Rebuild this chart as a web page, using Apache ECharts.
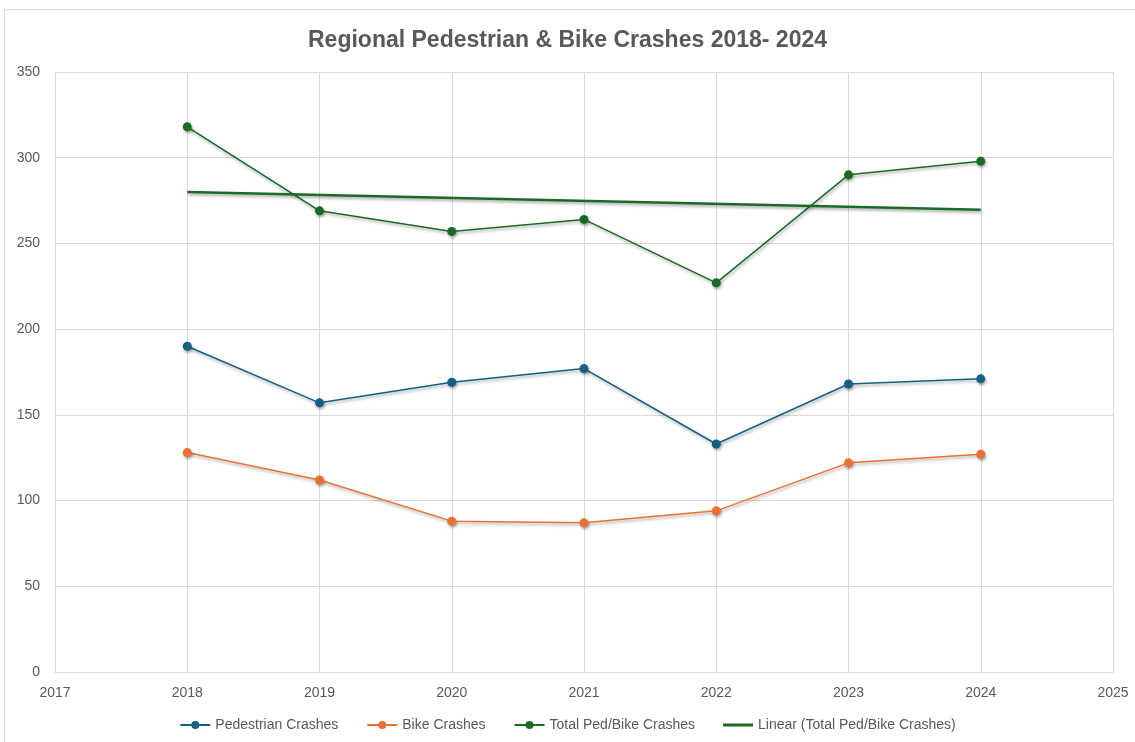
<!DOCTYPE html>
<html>
<head>
<meta charset="utf-8">
<script src="https://cdn.jsdelivr.net/npm/echarts@6/dist/echarts.min.js"></script>
<style>
  html, body { margin: 0; padding: 0; background: #fff; }
  #chart { width: 1135px; height: 742px; }
</style>
</head>
<body>
<div id="chart"></div>
<script>
// data
const years = [2018, 2019, 2020, 2021, 2022, 2023, 2024];
const pedestrian = [190, 157, 169, 177, 133, 168, 171];
const bike = [128, 112, 88, 87, 94, 122, 127];
const total = [318, 269, 257, 264, 227, 290, 298];
// Excel linear trendline endpoints (as drawn)
const trendYears = [2018, 2024];
const trendValues = [280, 269.6];

const font = '"Liberation Sans", Arial, sans-serif';
const textColor = '#595959';
const gridColor = '#d9d9d9';

const pair = (xs, ys) => xs.map((x, i) => [x, ys[i]]);

const shadow = {
  shadowColor: 'rgba(0,0,0,0.35)',
  shadowBlur: 3,
  shadowOffsetX: 1,
  shadowOffsetY: 2
};

function lineSeries(name, color, values) {
  return {
    name: name,
    type: 'line',
    data: pair(years, values),
    symbol: 'circle',
    symbolSize: 9,
    itemStyle: Object.assign({ color: color }, shadow),
    lineStyle: Object.assign({ color: color, width: 1.5 }, shadow),
    emphasis: { disabled: true }
  };
}

const chart = echarts.init(document.getElementById('chart'));
chart.setOption({
  animation: false,
  textStyle: { fontFamily: font },
  title: {
    text: 'Regional Pedestrian & Bike Crashes 2018- 2024',
    left: 'center',
    top: 24,
    textStyle: { fontFamily: font, fontSize: 23, fontWeight: 'bold', color: textColor }
  },
  graphic: [{
    type: 'rect',
    shape: { x: 4.5, y: 9.5, width: 1140, height: 740 },
    style: { fill: 'none', stroke: gridColor, lineWidth: 1 },
    silent: true
  }],
  legend: {
    bottom: 5,
    left: 'center',
    itemGap: 28,
    itemWidth: 30,
    itemHeight: 10,
    textStyle: { fontFamily: font, fontSize: 14, color: textColor },
    data: [
      'Pedestrian Crashes',
      'Bike Crashes',
      'Total Ped/Bike Crashes',
      { name: 'Linear (Total Ped/Bike Crashes)', icon: 'path://M0,0 H30 V3 H0 Z' }
    ]
  },
  grid: { left: 55, right: 22, top: 72, bottom: 70, containLabel: false },
  xAxis: {
    type: 'value',
    min: 2017,
    max: 2025,
    interval: 1,
    axisLine: { show: true, onZero: false, lineStyle: { color: gridColor } },
    axisTick: { show: false },
    axisLabel: {
      color: textColor, fontSize: 14, margin: 14, fontFamily: font,
      formatter: v => String(v)
    },
    splitLine: { show: true, lineStyle: { color: gridColor, width: 1 } }
  },
  yAxis: {
    type: 'value',
    min: 0,
    max: 350,
    interval: 50,
    axisLine: { show: false },
    axisTick: { show: false },
    axisLabel: { color: textColor, fontSize: 14, margin: 15, fontFamily: font },
    splitLine: { lineStyle: { color: gridColor, width: 1 } }
  },
  series: [
    lineSeries('Pedestrian Crashes', '#156082', pedestrian),
    lineSeries('Bike Crashes', '#E97132', bike),
    lineSeries('Total Ped/Bike Crashes', '#196B24', total),
    {
      name: 'Linear (Total Ped/Bike Crashes)',
      type: 'line',
      data: pair(trendYears, trendValues),
      symbol: 'none',
      lineStyle: Object.assign({ color: '#196B24', width: 2.5 }, shadow),
      itemStyle: { color: '#196B24' },
      emphasis: { disabled: true }
    }
  ]
});
</script>
</body>
</html>
